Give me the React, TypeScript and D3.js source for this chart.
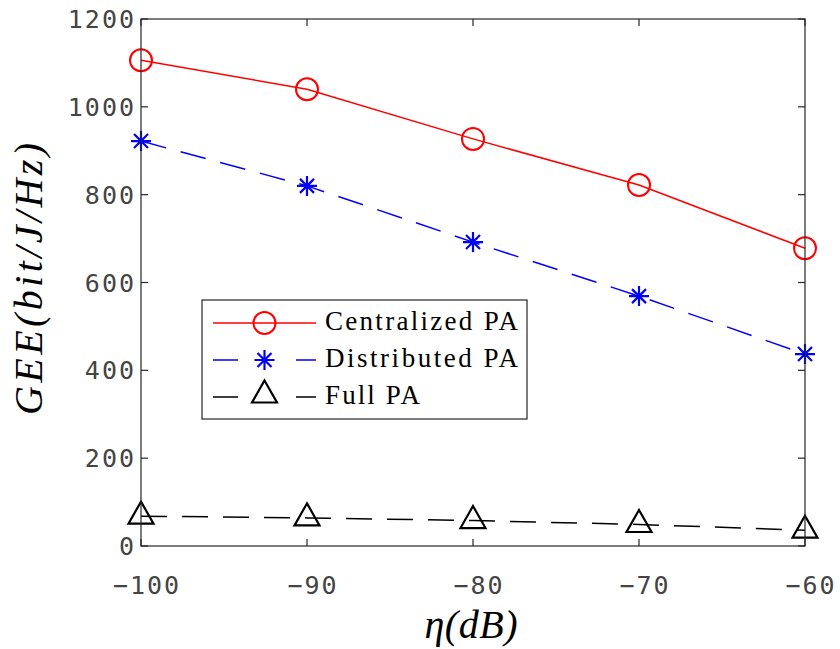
import React from "react";
import * as d3 from "d3";

const etaDB = [-100, -90, -80, -70, -60];
const centralized = [1106, 1040, 927, 822, 678];
const distributed = [922, 820, 692, 569, 437];
const fullPA = [68, 64, 58, 49, 36];
const xTicks = [-100, -90, -80, -70, -60];
const yTicks = [0, 200, 400, 600, 800, 1000, 1200];
const legendLabels = ["Centralized PA", "Distributed PA", "Full PA"];

const W = 840, H = 649;
const L = 141, R = 805, T = 19, B = 546;
const AX = "#262626";
const TICKFONT = "'DejaVu Sans Mono', monospace";
const SERIF = "'Liberation Serif', 'Times New Roman', serif";

export default function App() {
  const x = d3.scaleLinear().domain([-100, -60]).range([L, R]);
  const y = d3.scaleLinear().domain([0, 1200]).range([B, T]);
  const line = d3.line<number>().x((_, i) => x(etaDB[i])).y((v) => y(v));

  const circle = (cx: number, cy: number, k: string) => (
    <circle key={k} cx={cx} cy={cy} r={11} fill="none" stroke="#ff0000" strokeWidth={2} />
  );
  const star = (cx: number, cy: number, k: string) => {
    const a = 10, b = 7;
    return (
      <path key={k}
        d={`M${cx - a},${cy}H${cx + a}M${cx},${cy - a}V${cy + a}M${cx - b},${cy - b}L${cx + b},${cy + b}M${cx - b},${cy + b}L${cx + b},${cy - b}`}
        stroke="#0000ff" strokeWidth={2.2} fill="none" />
    );
  };
  const tri = (cx: number, cy: number, k: string) => (
    <path key={k} d={`M${cx},${cy - 14.5}L${cx + 12.5},${cy + 7.5}L${cx - 12.5},${cy + 7.5}Z`}
      fill="none" stroke="#000" strokeWidth={2.2} strokeLinejoin="miter" />
  );

  const lx0 = 213, lx1 = 316, lmx = 264.5;
  const rows = [323, 360, 397];

  return (
    <svg width={W} height={H} style={{ position: "absolute", left: 0, top: 0, background: "#fff" }}>
      <rect x={0} y={0} width={W} height={H} fill="#fff" />
      {/* data lines */}
      <path d={line(centralized) || ""} fill="none" stroke="#ff0000" strokeWidth={1.5} />
      <path d={line(distributed) || ""} fill="none" stroke="#0000ff" strokeWidth={1.5} strokeDasharray="26,15" />
      <path d={line(fullPA) || ""} fill="none" stroke="#000" strokeWidth={1.5} strokeDasharray="26,15" />
      {centralized.map((v, i) => circle(x(etaDB[i]), y(v), "c" + i))}
      {distributed.map((v, i) => star(x(etaDB[i]), y(v), "d" + i))}
      {fullPA.map((v, i) => tri(x(etaDB[i]), y(v), "f" + i))}

      {/* axes box */}
      <rect x={L} y={T} width={R - L} height={B - T} fill="none" stroke={AX} strokeWidth={1.2} />
      {yTicks.map((t) => (
        <g key={"yt" + t}>
          <line x1={L} x2={L + 7} y1={y(t)} y2={y(t)} stroke={AX} strokeWidth={1.2} />
          <line x1={R} x2={R - 7} y1={y(t)} y2={y(t)} stroke={AX} strokeWidth={1.2} />
          <text x={136} y={y(t)} dy="0.36em" textAnchor="end" fontFamily={TICKFONT} fontSize={25}
            letterSpacing={2} fill="#444">{t}</text>
        </g>
      ))}
      {xTicks.map((t) => (
        <g key={"xt" + t}>
          <line x1={x(t)} x2={x(t)} y1={B} y2={B - 7} stroke={AX} strokeWidth={1.2} />
          <line x1={x(t)} x2={x(t)} y1={T} y2={T + 7} stroke={AX} strokeWidth={1.2} />
          <text x={x(t) + 6} y={594} textAnchor="middle" fontFamily={TICKFONT} fontSize={25}
            letterSpacing={2} fill="#444">{String(t).replace("-", "\u2212")}</text>
        </g>
      ))}

      {/* axis titles */}
      <text x={471} y={638} textAnchor="middle" fontFamily={SERIF} fontStyle="italic" fontSize={40}
        textLength={93} lengthAdjust="spacing" fill="#000">η(dB)</text>
      <text transform={`translate(42,279) rotate(-90)`} textAnchor="middle" fontFamily={SERIF}
        fontStyle="italic" fontSize={40} textLength={272} lengthAdjust="spacing" fill="#000">GEE(bit/J/Hz)</text>

      {/* legend */}
      <rect x={202} y={300} width={325} height={119} fill="#fff" stroke={AX} strokeWidth={1.2} />
      <line x1={lx0} x2={lx1} y1={rows[0]} y2={rows[0]} stroke="#ff0000" strokeWidth={1.5} />
      {circle(lmx, rows[0], "lc")}
      <line x1={lx0} x2={lx1} y1={rows[1]} y2={rows[1]} stroke="#0000ff" strokeWidth={1.5} strokeDasharray="25,58,22" />
      {star(lmx, rows[1], "ls")}
      <line x1={lx0} x2={lx1} y1={rows[2]} y2={rows[2]} stroke="#000" strokeWidth={1.5} strokeDasharray="25,58,22" />
      {tri(lmx, rows[2] - 2, "lt")}
      {legendLabels.map((s, i) => (
        <text key={s} x={325} y={rows[i] + 7} fontFamily={SERIF} fontSize={27}
          textLength={[193, 193, 95][i]} lengthAdjust="spacing" fill="#000">{s}</text>
      ))}
    </svg>
  );
}
